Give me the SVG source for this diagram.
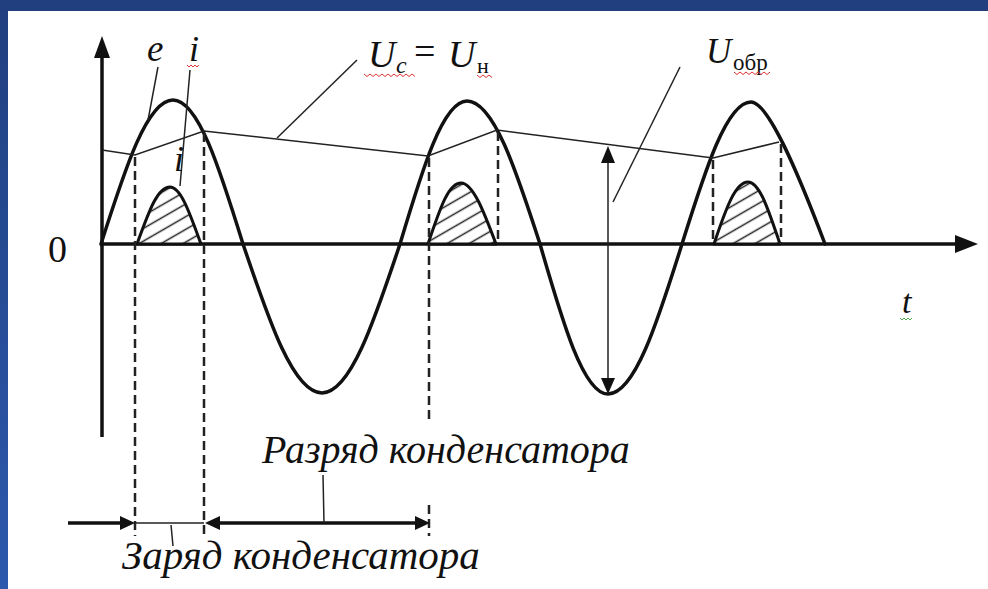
<svg xmlns="http://www.w3.org/2000/svg" width="988" height="589" viewBox="0 0 988 589">
<style>
.curve{fill:none;stroke:#111;stroke-width:3.5;stroke-linejoin:round;stroke-linecap:round}
.pulse{stroke:#111;stroke-width:3;stroke-linejoin:round}
.thin{fill:none;stroke:#222;stroke-width:1.5}
.axis{fill:none;stroke:#111;stroke-width:3.5}
.dash{fill:none;stroke:#222;stroke-width:2.5;stroke-dasharray:9 5}
.head{fill:#111}
.lbl{font-family:"Liberation Serif","Times New Roman",serif;fill:#111}
.it{font-style:italic}
.sq{fill:none;stroke:#d33;stroke-width:1}
.sqg{fill:none;stroke:#5a5;stroke-width:1}
</style>
<defs>
<pattern id="hatch" patternUnits="userSpaceOnUse" width="10" height="11" patternTransform="rotate(-30)">
<rect width="10" height="11" fill="#fff"/>
<line x1="0" y1="5.5" x2="10" y2="5.5" stroke="#222" stroke-width="1.5"/>
</pattern>
<linearGradient id="side" x1="0" y1="0" x2="0" y2="1">
<stop offset="0" stop-color="#213f7f"/>
<stop offset="1" stop-color="#2c59ad"/>
</linearGradient>
</defs>
<rect width="988" height="589" fill="#fff"/>
<rect x="0" y="0" width="8" height="589" fill="url(#side)"/>
<rect x="0" y="0" width="988" height="11" fill="#213f7f"/>

<g id="axes">
<line class="axis" x1="102" y1="437" x2="102" y2="55"/>
<polygon class="head" points="102,36 94,58 110,58"/>
<line class="axis" x1="100" y1="244" x2="958" y2="244"/>
<polygon class="head" points="978,244 955,235 955,253"/>
</g>

<g id="pulses">
<path class="pulse" fill="url(#hatch)" d="M137,244 C150,208 158,187 170,187 C181,187 190,214 201,244 Z"/>
<path class="pulse" fill="url(#hatch)" d="M428,244 C441,205 449,183 461,183 C473,183 484,212 496,244 Z"/>
<path class="pulse" fill="url(#hatch)" d="M714,244 C727,205 736,182 748,182 C760,182 769,212 780,244 Z"/>
</g>

<g id="emf">
<path class="curve" d="M101,244 C125.1,168.4 147.1,100 173,100 C198.2,100 219.6,168.4 243,244 C269.4,322.2 293.6,393 322,393 C350.1,393 373.9,322.2 400,244 C422.4,168.9 442.9,101 467,101 C493.3,101 515.6,168.9 540,244 C562.7,322.8 583.5,394 608,394 C634.6,394 657.3,322.8 682,244 C705.4,169.4 726.8,102 751,102 C768,102 797,170 825,244"/>
</g>

<g id="connectors">
<polyline class="thin" points="102,150 135,155 204,131 428,156 497,130 713,158 779,142"/>
<line class="dash" x1="135" y1="157" x2="135" y2="536"/>
<line class="dash" x1="204" y1="133" x2="204" y2="536"/>
<line class="dash" x1="429" y1="158" x2="429" y2="420"/>
<line class="dash" x1="429" y1="505" x2="429" y2="536"/>
<line class="dash" x1="498" y1="132" x2="498" y2="244"/>
<line class="dash" x1="713" y1="160" x2="713" y2="244"/>
<line class="dash" x1="781" y1="144" x2="781" y2="244"/>
<line class="thin" x1="158" y1="67" x2="148" y2="120"/>
<line class="thin" x1="190" y1="70" x2="180" y2="186"/>
<line class="thin" x1="357" y1="60" x2="277" y2="138"/>
<line class="thin" x1="680" y1="67" x2="613" y2="202"/>
<line class="thin" stroke-width="1.8" x1="608" y1="158" x2="608" y2="382"/>
<polygon class="head" points="608,146 601,163 615,163"/>
<polygon class="head" points="608,394 601,378 615,378"/>
<line class="axis" stroke-width="3" x1="68" y1="523" x2="124" y2="523"/>
<polygon class="head" points="135,523 120,516 120,530"/>
<line class="thin" x1="135" y1="523" x2="204" y2="523"/>
<line class="axis" stroke-width="3" x1="214" y1="523" x2="420" y2="523"/>
<polygon class="head" points="205,523 220,516 220,530"/>
<polygon class="head" points="430,523 415,516 415,530"/>
<line class="thin" x1="323" y1="475" x2="324" y2="523"/>
<line class="thin" x1="171" y1="525" x2="173" y2="546"/>
</g>

<g id="labels">
<text class="lbl" x="48" y="262" font-size="38">0</text>
<text class="lbl it" x="147" y="61" font-size="37">e</text>
<text class="lbl it" x="189" y="61" font-size="36">i</text>
<path class="sq" d="M187,65 l2,2 l2,-2 l2,2 l2,-2 l2,2 l2,-2"/>
<text class="lbl it" x="174" y="171" font-size="36">i</text>
<text class="lbl it" x="368" y="67" font-size="38">U</text>
<text class="lbl it" x="396" y="73" font-size="24">c</text>
<text class="lbl" x="414" y="64" font-size="38">=</text>
<text class="lbl it" x="448" y="67" font-size="38">U</text>
<text class="lbl" x="477" y="73" font-size="22">н</text>
<path class="sq" d="M364,74 l3,2.5 l3,-2.5 l3,2.5 l3,-2.5 l3,2.5 l3,-2.5 l3,2.5 l3,-2.5 l3,2.5 l3,-2.5 l3,2.5 l3,-2.5 l3,2.5 l3,-2.5 l3,2.5 l3,-2.5 l3,2.5"/>
<path class="sq" d="M477,75 l3,2.5 l3,-2.5 l3,2.5 l3,-2.5 l3,2.5"/>
<text class="lbl it" x="706" y="63" font-size="35">U</text>
<text class="lbl" x="733" y="70" font-size="23">обр</text>
<path class="sq" d="M734,72 l3,2.5 l3,-2.5 l3,2.5 l3,-2.5 l3,2.5 l3,-2.5 l3,2.5 l3,-2.5 l3,2.5 l3,-2.5 l3,2.5 l3,-2.5"/>
<text class="lbl it" x="902" y="313" font-size="34">t</text>
<path class="sqg" d="M900,318 l2,2 l2,-2 l2,2 l2,-2 l2,2 l2,-2"/>
<text class="lbl it" x="262" y="463" font-size="40">Разряд конденсатора</text>
<text class="lbl it" x="122" y="569" font-size="41">Заряд конденсатора</text>
</g>
</svg>
